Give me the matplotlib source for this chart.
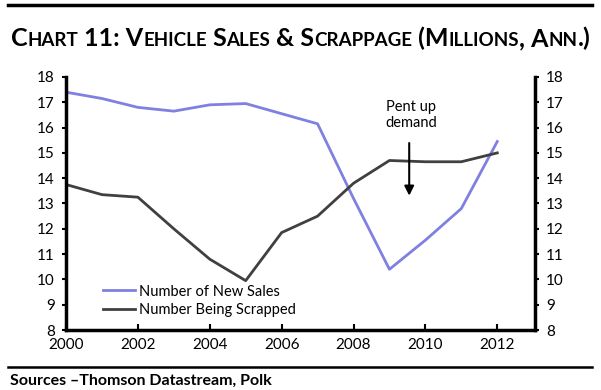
import matplotlib
matplotlib.use("Agg")
import matplotlib.pyplot as plt
from matplotlib.lines import Line2D
from matplotlib.transforms import IdentityTransform

years = [2000, 2001, 2002, 2003, 2004, 2005, 2006, 2007, 2008, 2009, 2010, 2011, 2012]
new_sales = [17.4, 17.15, 16.8, 16.65, 16.9, 16.95, 16.55, 16.15, 13.2, 10.4, 11.55, 12.8, 15.45]
scrapped = [13.75, 13.35, 13.25, 12.0, 10.8, 9.95, 11.85, 12.5, 13.8, 14.7, 14.65, 14.65, 15.0]
x_ticks = [2000, 2002, 2004, 2006, 2008, 2010, 2012]
y_ticks = list(range(8, 19))

title = "Chart 11: Vehicle Sales & Scrappage (Millions, Ann.)"
source = "Sources \u2013Thomson Datastream, Polk"

SALES_COLOR = "#8080e0"
SCRAP_COLOR = "#404040"

plt.rcParams["font.family"] = ["Lato", "DejaVu Sans"]


def small_caps(fig, text, y_px, big, small):
    """Dessine un titre en petites capitales, centré."""
    runs = []
    for ch in text:
        size = small if ch.islower() else big
        if runs and runs[-1][1] == size:
            runs[-1][0] += ch.upper()
        else:
            runs.append([ch.upper(), size])
    renderer = fig.canvas.get_renderer()
    artists = []
    x = 0
    for s, size in runs:
        t = fig.text(x, y_px, s, fontsize=size, fontweight="bold",
                     ha="left", va="baseline", transform=IdentityTransform())
        x += t.get_window_extent(renderer).width
        artists.append(t)
    shift = (fig.bbox.width - x) / 2
    for t in artists:
        px, py = t.get_position()
        t.set_position((px + shift, py))


fig = plt.figure(figsize=(6.01, 3.9), dpi=100)
ax = fig.add_axes([66 / 601, 1 - 330 / 390, (535 - 66) / 601, (330 - 77) / 390])

ax.plot(years, new_sales, color=SALES_COLOR, lw=2, label="Number of New Sales")
ax.plot(years, scrapped, color=SCRAP_COLOR, lw=2, label="Number Being Scrapped")

ax.set_xlim(2000, 2013.05)
ax.set_ylim(8, 18)
ax.set_xticks(x_ticks)
ax.set_yticks(y_ticks)

ax2 = ax.twinx()
ax2.set_ylim(8, 18)
ax2.set_yticks(y_ticks)

for a in (ax, ax2):
    a.spines["top"].set_visible(False)
    for side in ("left", "right", "bottom"):
        a.spines[side].set_linewidth(2.5)
ax2.spines["left"].set_visible(False)
ax2.spines["bottom"].set_visible(False)
ax.spines["right"].set_visible(False)

ax.tick_params(axis="y", direction="out", length=3, width=1.5, labelsize=11, pad=5)
ax.tick_params(axis="x", direction="in", length=4, width=1.5, labelsize=11, pad=6)
ax2.tick_params(axis="y", direction="out", length=3, width=1.5, labelsize=11, pad=5)

ax.legend(loc="lower left", bbox_to_anchor=(0.05, 0.0), frameon=False, fontsize=10.5,
          handlelength=2.2, handletextpad=0.3, labelspacing=0.3)

ax.text(2009.6, 16.5, "Pent up\ndemand", ha="center", va="center", fontsize=10.5,
        linespacing=1.1)
ax.annotate("", xy=(2009.55, 13.2), xytext=(2009.55, 15.5),
            arrowprops=dict(arrowstyle="-|>", color="black", lw=1.5,
                            mutation_scale=14))

small_caps(fig, title, 390 - 46, 18, 13.5)
fig.add_artist(Line2D([8 / 601, 592 / 601], [1 - 5 / 390] * 2, color="black", lw=2.5))
fig.add_artist(Line2D([8 / 601, 592 / 601], [1 - 367 / 390] * 2, color="black", lw=1.8))
fig.text(10 / 601, 1 - 385 / 390, source, fontsize=11.5, fontweight="bold",
         ha="left", va="baseline")

fig.savefig("out.png", dpi=100)
